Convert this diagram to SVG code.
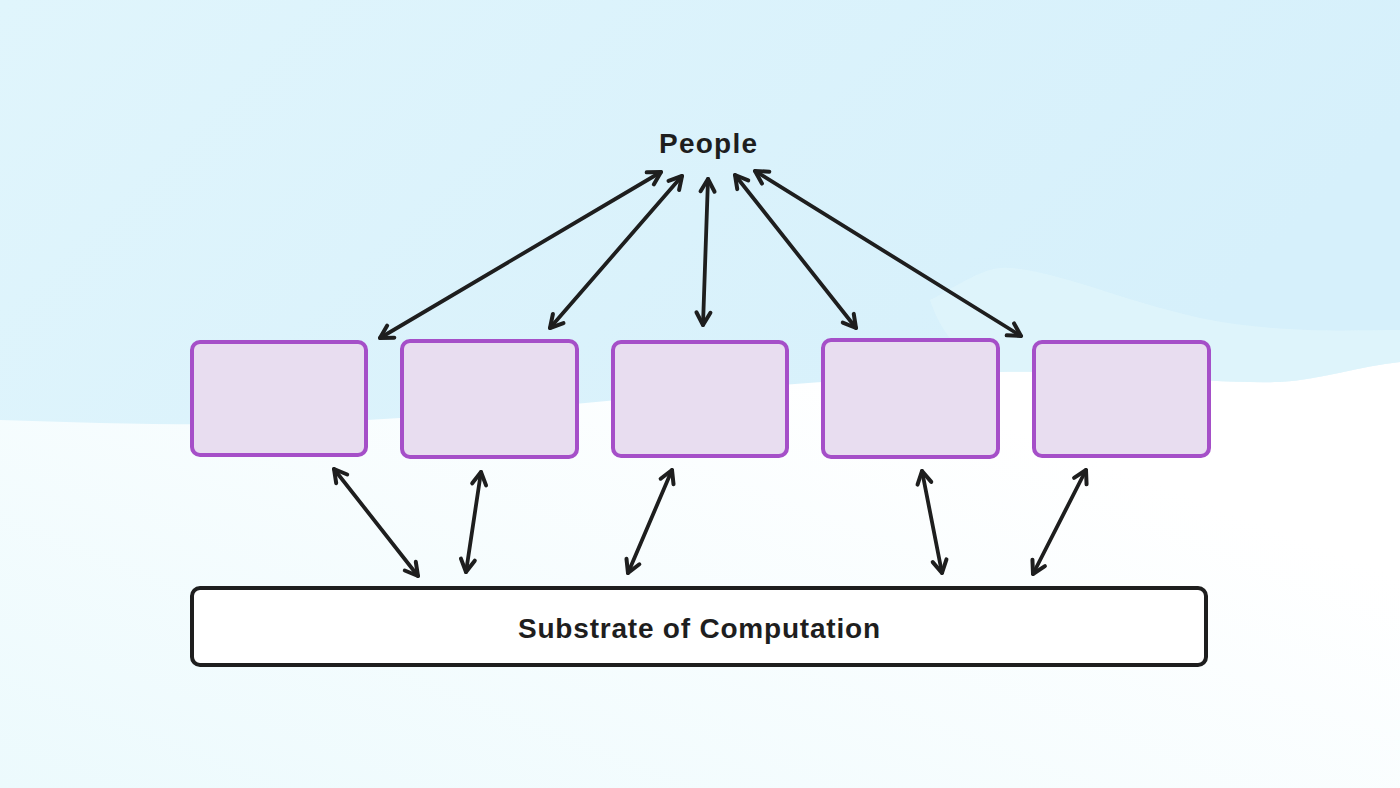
<svg xmlns="http://www.w3.org/2000/svg" width="1400" height="788" viewBox="0 0 1400 788">
  <defs>
    <linearGradient id="sky" x1="0" y1="0" x2="1" y2="0.3">
      <stop offset="0" stop-color="#e0f5fc"/>
      <stop offset="1" stop-color="#d6f0fb"/>
    </linearGradient>
    <linearGradient id="ground" x1="0" y1="1" x2="0.45" y2="0.35">
      <stop offset="0" stop-color="#ecfafd"/>
      <stop offset="1" stop-color="#ffffff"/>
    </linearGradient>
    <marker id="head" viewBox="-16 -10 20 20" refX="0" refY="0" markerWidth="20" markerHeight="20" markerUnits="userSpaceOnUse" orient="auto-start-reverse">
      <path d="M-12.5,-7 L0,0 L-12.5,7" fill="none" stroke="#1e1e1e" stroke-width="4" stroke-linecap="round" stroke-linejoin="round"/>
    </marker>
    <style>
      .box { fill: #e8ddf0; stroke: #a54fc8; stroke-width: 4; }
      .sub { fill: #ffffff; stroke: #1e1e1e; stroke-width: 4; }
      .arrow { fill: none; stroke: #1e1e1e; stroke-width: 3.8; stroke-linecap: round; marker-start: url(#head); marker-end: url(#head); }
      .label { font-family: "Liberation Sans", Arial, sans-serif; font-weight: 700; font-size: 28px; fill: #1e1e1e; text-anchor: middle; }
    </style>
  </defs>

  <g id="background">
    <rect x="0" y="0" width="1400" height="788" fill="url(#ground)"/>
    <path d="M0,0 H1400 V362 C1360,366 1320,380 1280,382 C1200,384 1100,370 1000,372 C800,378 600,405 400,418 C260,428 120,424 0,420 Z" fill="url(#sky)"/>
    <path d="M930,300 C960,285 985,265 1010,268 C1060,272 1120,300 1200,318 C1280,334 1350,330 1400,330 V362 C1360,366 1320,380 1280,382 C1200,384 1100,370 1000,372 C960,360 940,330 930,300 Z" fill="#e3f6fc" opacity="0.6"/>
  </g>

  <g id="connectors">
    <line class="arrow" x1="380" y1="338" x2="661" y2="172"/>
    <line class="arrow" x1="550" y1="328" x2="682" y2="176"/>
    <line class="arrow" x1="703" y1="325" x2="708" y2="179"/>
    <line class="arrow" x1="856" y1="328" x2="735" y2="175"/>
    <line class="arrow" x1="1021" y1="336" x2="755" y2="171"/>

    <line class="arrow" x1="334" y1="469" x2="418" y2="576"/>
    <line class="arrow" x1="481" y1="472" x2="466" y2="572"/>
    <line class="arrow" x1="672" y1="470" x2="628" y2="573"/>
    <line class="arrow" x1="922" y1="471" x2="942" y2="573"/>
    <line class="arrow" x1="1086" y1="470" x2="1033" y2="574"/>
  </g>

  <g id="people">
    <text class="label" x="708" y="153" textLength="98" lengthAdjust="spacing">People</text>
  </g>

  <g id="box1"><rect class="box" x="192" y="342" width="174" height="113" rx="8"/></g>
  <g id="box2"><rect class="box" x="402" y="341" width="175" height="116" rx="8"/></g>
  <g id="box3"><rect class="box" x="613" y="342" width="174" height="114" rx="8"/></g>
  <g id="box4"><rect class="box" x="823" y="340" width="175" height="117" rx="8"/></g>
  <g id="box5"><rect class="box" x="1034" y="342" width="175" height="114" rx="8"/></g>

  <g id="substrate">
    <rect class="sub" x="192" y="588" width="1014" height="77" rx="8"/>
    <text class="label" x="699" y="638" textLength="362" lengthAdjust="spacing">Substrate of Computation</text>
  </g>
</svg>
